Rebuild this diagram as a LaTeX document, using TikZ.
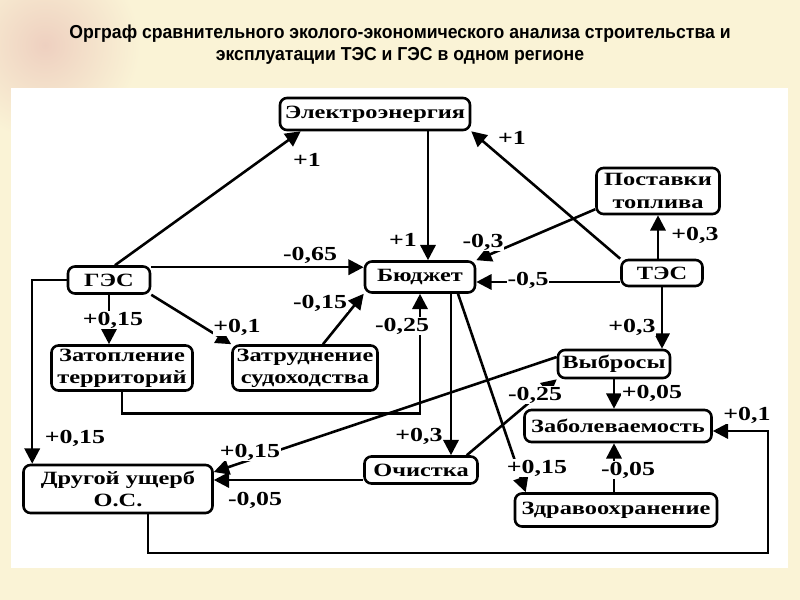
\documentclass[tikz,border=0pt]{standalone}
\usepackage{fontspec}
\setmainfont{Liberation Serif}
\newfontfamily\boxfont[FakeStretch=1.3]{Liberation Serif}
\newfontfamily\titlefont[FakeStretch=0.94]{Liberation Sans}
\usetikzlibrary{arrows.meta,calc}
\definecolor{cream}{RGB}{250,243,214}
\definecolor{rosy}{RGB}{238,208,192}

\tikzset{
  box/.style={draw,line width=2.2pt,rounded corners=6pt,fill=white,align=center,inner sep=1pt,
    font=\boxfont\bfseries\fontsize{16}{19}\selectfont},
  wt/.style={fill=white,inner sep=0.5pt,font=\boxfont\bfseries\fontsize{17}{18}\selectfont},
}

\begin{document}
\begin{tikzpicture}[x=0.03cm,y=-0.03cm,>={Triangle[length=13pt,width=13pt]},line width=2.2pt]
      \useasboundingbox (0,0) rectangle (800,600);
      \fill[cream] (0,0) rectangle (800,600);
      \shade[inner color=rosy,outer color=cream] (45,45) circle (95);
      \fill[white] (11,88) rectangle (788,568);

      \node at (400,45) [name=title,align=center,font=\titlefont\bfseries\fontsize{16}{19}\selectfont]
      {Орграф сравнительного эколого-экономического анализа строительства и\\
       эксплуатации ТЭС и ГЭС в одном регионе};

      \node at (375,114) [box,minimum width=5.7cm,minimum height=0.96cm,name=elec] {Электроэнергия};
      \node at (658,191) [box,minimum width=3.69cm,minimum height=1.38cm,name=fuel] {Поставки\\топлива};
      \node at (109,280) [box,minimum width=2.46cm,minimum height=0.81cm,name=ges] {ГЭС};
      \node at (420,277) [box,minimum width=3.3cm,minimum height=0.93cm,name=budget] {Бюджет};
      \node at (662,273) [box,minimum width=2.43cm,minimum height=0.78cm,name=tes] {ТЭС};
      \node at (122,368) [box,minimum width=4.23cm,minimum height=1.35cm,name=flood] {Затопление\\территорий};
      \node at (305,368) [box,minimum width=4.35cm,minimum height=1.35cm,name=ship] {Затруднение\\судоходства};
      \node at (614,364) [box,minimum width=3.36cm,minimum height=0.84cm,name=emis] {Выбросы};
      \node at (618,426) [box,minimum width=5.61cm,minimum height=0.96cm,name=morb] {Заболеваемость};
      \node at (118,489) [box,minimum width=5.67cm,minimum height=1.44cm,name=dmg] {Другой ущерб\\О.С.};
      \node at (421,470) [box,minimum width=3.39cm,minimum height=0.81cm,name=clean] {Очистка};
      \node at (616,510) [box,minimum width=6.06cm,minimum height=0.99cm,name=health] {Здравоохранение};
      \coordinate (corner) at (768,553);

      \draw [->] ($(ges.north)+(6,0)$) -- ($(elec.south west)+(22,0)$);
      \draw [->] (tes.north west) -- (elec.south east);
      \draw [->] ($(elec.south)+(53,0)$) coordinate (e1) -- (e1 |- budget.north);
      \draw [->] ($(fuel.south west)+(0,-6)$) -- (budget.north east);
      \draw [->] (tes.north -| fuel.south) -- (fuel.south);
      \draw [->] ($(tes.west)+(0,9)$) coordinate (t1) -- (t1 -| budget.east);
      \draw [->] ($(ges.north east)+(0,2)$) coordinate (g1) -- (g1 -| budget.west);
      \draw [->] (ges.south) -- (ges.south |- flood.north);
      \draw [->] (ges.south east) -- (ship.north west);
      \draw [->] ($(ship.north)+(18,0)$) -- (budget.south west);
      \draw [->] (flood.south) -- ++(0,22) -| (budget.south);
      \draw [->] (ges.west) -| ($(dmg.north west)+(10,0)$);
      \draw [->] ($(emis.west)+(0,-7)$) -- ($(dmg.east)+(0,-17)$);
      \draw [->] ($(clean.west)+(0,10)$) coordinate (c1) -- (c1 -| dmg.east);
      \draw [->] ($(budget.south)+(31,0)$) coordinate (b1) -- (b1 |- clean.north);
      \draw [->] ($(clean.north east)+(-12,0)$) -- (emis.south west);
      \draw [->] ($(budget.south)+(38,0)$) -- ($(health.north west)+(12,0)$);
      \draw [->] (tes.south) -- (tes.south |- emis.north);
      \draw [->] (emis.south) -- (emis.south |- morb.north);
      \draw [->] (health.north -| emis.south) -- (emis.south |- morb.south);
      \draw [->] ($(dmg.south)+(30,0)$) |- (corner) |- ($(morb.east)+(0,5)$);

      \node at (307,160) [wt,name=w1] {+1};
      \node at (512,138) [wt,name=w2] {+1};
      \node at (403,240) [wt,name=w3] {+1};
      \node at (483,242) [wt,name=w4] {-0,3};
      \node at (695,235) [wt,name=w5] {+0,3};
      \node at (528,280) [wt,name=w6] {-0,5};
      \node at (310,255) [wt,name=w7] {-0,65};
      \node at (113,320) [wt,name=w8] {+0,15};
      \node at (237,327) [wt,name=w9] {+0,1};
      \node at (320,303) [wt,name=w10] {-0,15};
      \node at (402,326) [wt,name=w11] {-0,25};
      \node at (75,438) [wt,name=w12] {+0,15};
      \node at (250,452) [wt,name=w13] {+0,15};
      \node at (255,500) [wt,name=w14] {-0,05};
      \node at (419,436) [wt,name=w15] {+0,3};
      \node at (535,395) [wt,name=w16] {-0,25};
      \node at (537,468) [wt,name=w17] {+0,15};
      \node at (632,327) [wt,name=w18] {+0,3};
      \node at (652,393) [wt,name=w19] {+0,05};
      \node at (628,470) [wt,name=w20] {-0,05};
      \node at (747,415) [wt,name=w21] {+0,1};
    \end{tikzpicture}
\end{document}
